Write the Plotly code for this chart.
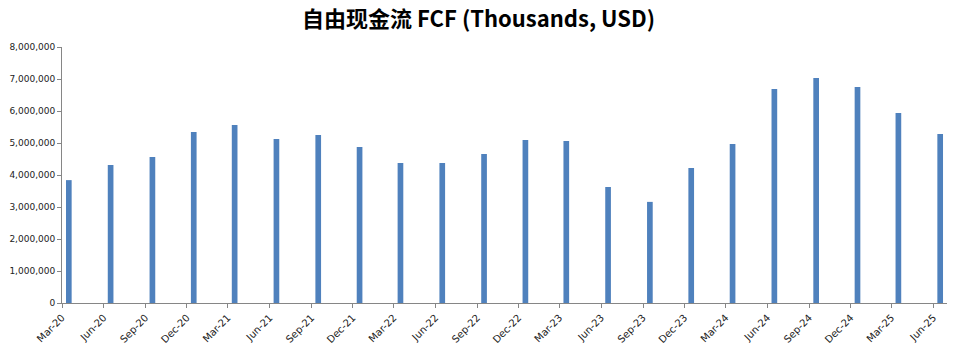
import pandas as pd
import plotly.graph_objects as go

quarters = ["2020-03", "2020-06", "2020-09", "2020-12", "2021-03", "2021-06", "2021-09",
            "2021-12", "2022-03", "2022-06", "2022-09", "2022-12", "2023-03", "2023-06",
            "2023-09", "2023-12", "2024-03", "2024-06", "2024-09", "2024-12", "2025-03",
            "2025-06"]
fcf = [3840000, 4310000, 4560000, 5340000, 5560000, 5125000, 5250000,
       4875000, 4375000, 4375000, 4660000, 5090000, 5060000, 3625000,
       3160000, 4220000, 4970000, 6690000, 7030000, 6750000, 5940000,
       5280000]
title_text = "自由现金流 FCF (Thousands, USD)"

# Excel-style month slots: each bar sits in the middle of its month
x_dates = pd.to_datetime(quarters) + pd.Timedelta(days=15)

fig = go.Figure()
fig.add_trace(go.Bar(
    x=x_dates, y=fcf,
    width=12.5 * 86400000,
    marker=dict(color="#4F81BD", line=dict(width=0)),
))

axis_color = "#868686"
fig.update_layout(
    width=957, height=355,
    margin=dict(l=62, r=10, t=47, b=52),
    paper_bgcolor="white", plot_bgcolor="white",
    showlegend=False,
    title=dict(text="<b>" + title_text + "</b>", x=0.5, xanchor="center",
               yref="container", y=0.945, yanchor="middle",
               font=dict(family="Noto Sans CJK SC, Open Sans", size=22, color="#000000")),
    xaxis=dict(
        type="date",
        range=["2020-03-01", "2025-07-01"],
        tick0="2020-03-01", dtick="M3", tickformat="%b-%y",
        tickangle=-45,
        showline=True, linecolor=axis_color, linewidth=1,
        ticks="outside", ticklen=4, tickcolor=axis_color,
        showgrid=False, zeroline=False,
        tickfont=dict(family="DejaVu Sans", size=10, color="#222222"),
    ),
    yaxis=dict(
        range=[0, 8000000], dtick=1000000, tickformat=",d",
        showline=True, linecolor=axis_color, linewidth=1,
        ticks="outside", ticklen=4, tickcolor=axis_color,
        showgrid=False, zeroline=False,
        tickfont=dict(family="DejaVu Sans", size=9, color="#222222"),
    ),
)

fig.write_html("out.html")
